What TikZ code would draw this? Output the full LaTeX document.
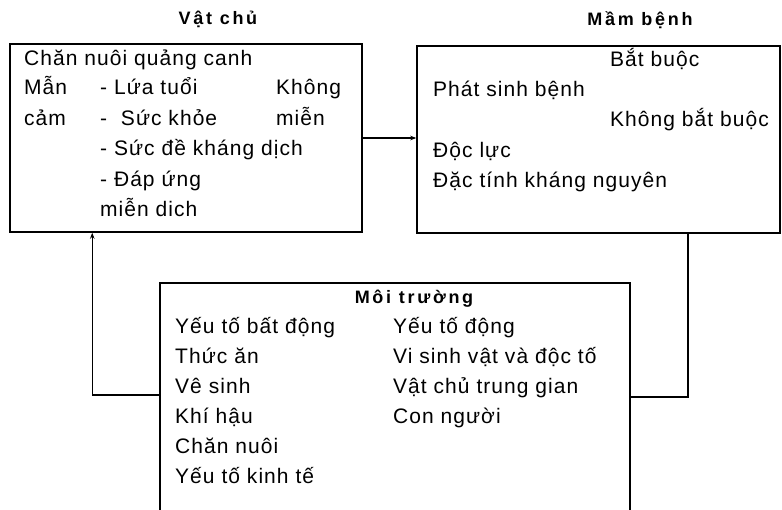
\documentclass[tikz,border=0pt]{standalone}
\usepackage{fontspec}
\setmainfont{Liberation Sans}
\newfontfamily\bodyfont[LetterSpace=5]{Liberation Sans}
\newfontfamily\titlefont[LetterSpace=15]{Liberation Sans Bold}
\usetikzlibrary{arrows.meta}
\begin{document}
\begin{tikzpicture}[x=1pt,y=-1pt,
  box/.style={draw, line width=1.5pt, inner sep=0pt},
  txt/.style={anchor=west, inner sep=0pt, text height=15pt, text depth=5pt, font=\bodyfont\fontsize{21}{24}\selectfont},
  ttl/.style={inner sep=0pt, text height=14pt, text depth=4pt, font=\titlefont\fontsize{18}{20}\selectfont},
  conn/.style={line width=1.5pt},
  tip/.style={-{Stealth[length=6pt,width=4.5pt]}}]
\useasboundingbox (0,0) rectangle (782,509);
\clip (0,0) rectangle (782,509);
% boxes
\node[box, minimum width=352pt, minimum height=188pt] (host) at (186,138) {};
\node[box, minimum width=363pt, minimum height=187pt] (path) at (598.5,139.5) {};
\node[box, minimum width=470pt, minimum height=247pt] (env) at (395,406.5) {};
% titles
\node[ttl] (t1) at (218,19) {Vật chủ};
\node[ttl] (t2) at (640,20) {Mầm bệnh};
\node[ttl] (t3) at (414,298) {Môi trường};
% host text
\node[txt] (h1) at (24,60) {Chăn nuôi quảng canh};
\node[txt] (h2) at (24,89) {Mẫn};
\node[txt] (h3) at (100,89) {- Lứa tuổi};
\node[txt] (h4) at (276,89) {Không};
\node[txt] (h5) at (24,120) {cảm};
\node[txt] (h6) at (100,120) {-\ \ Sức khỏe};
\node[txt] (h7) at (276,120) {miễn};
\node[txt] (h8) at (100,150) {- Sức đề kháng dịch};
\node[txt] (h9) at (100,181) {- Đáp ứng};
\node[txt] (h10) at (100,211) {miễn dich};
% pathogen text
\node[txt] (p1) at (610,61) {Bắt buộc};
\node[txt] (p2) at (433,91) {Phát sinh bệnh};
\node[txt] (p3) at (610,121) {Không bắt buộc};
\node[txt] (p4) at (433,152) {Độc lực};
\node[txt] (p5) at (433,182) {Đặc tính kháng nguyên};
% environment text
\node[txt] (e1) at (175,328) {Yếu tố bất động};
\node[txt] (e2) at (175,358) {Thức ăn};
\node[txt] (e3) at (175,388) {Vê sinh};
\node[txt] (e4) at (175,418) {Khí hậu};
\node[txt] (e5) at (175,448) {Chăn nuôi};
\node[txt] (e6) at (175,478) {Yếu tố kinh tế};
\node[txt] (f1) at (393,328) {Yếu tố động};
\node[txt] (f2) at (393,358) {Vi sinh vật và độc tố};
\node[txt] (f3) at (393,388) {Vật chủ trung gian};
\node[txt] (f4) at (393,418) {Con người};
% connectors
\draw[conn, tip] (host.east) -- (host.east -| path.west);
\draw[conn, tip] ([yshift=11.5pt]env.west) -| ([xshift=83pt]host.south west);
\draw[conn] ([yshift=9.5pt]env.east) -| ([xshift=-93pt]path.south east);
\end{tikzpicture}
\end{document}
